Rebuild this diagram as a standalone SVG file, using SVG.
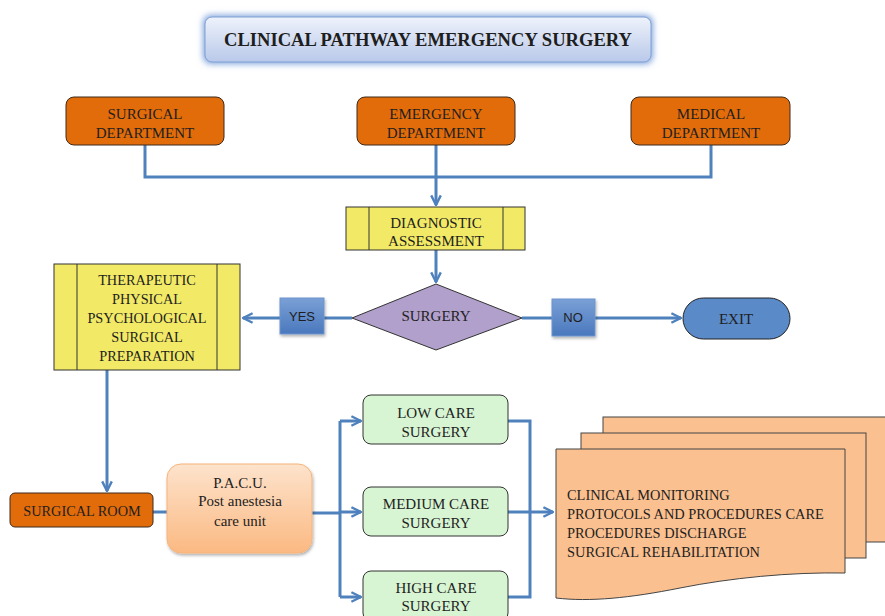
<svg xmlns="http://www.w3.org/2000/svg" width="885" height="616" viewBox="0 0 885 616">
<defs>
<linearGradient id="gTitle" x1="0" y1="0" x2="0" y2="1"><stop offset="0" stop-color="#eef2fb"/><stop offset="1" stop-color="#b9c9ea"/></linearGradient>
<linearGradient id="gBlue" x1="0" y1="0" x2="0" y2="1"><stop offset="0" stop-color="#7aa0d6"/><stop offset="1" stop-color="#4a78bd"/></linearGradient>
<linearGradient id="gPeach" x1="0" y1="0" x2="0" y2="1"><stop offset="0" stop-color="#fde3cc"/><stop offset="1" stop-color="#fbb982"/></linearGradient>
<filter id="glow" x="-10%" y="-40%" width="120%" height="180%"><feGaussianBlur stdDeviation="3"/></filter>
<filter id="sh" x="-10%" y="-10%" width="130%" height="140%"><feDropShadow dx="1" dy="2" stdDeviation="1.5" flood-color="#000" flood-opacity="0.3"/></filter>
<marker id="ah" viewBox="0 0 10 10" refX="9" refY="5" markerWidth="4" markerHeight="4" orient="auto"><path d="M1,1 L9,5 L1,9" fill="none" stroke="#4f81bd" stroke-width="2"/></marker>
</defs>
<style>
text{font-family:"Liberation Serif","DejaVu Serif",serif;font-size:15px;fill:#1e1e1e;text-anchor:middle}
.sm{font-size:14.3px}
.sans{font-family:"Liberation Sans","DejaVu Sans",sans-serif;font-size:13px}
.lft{text-anchor:start;font-size:14.4px}
.org{fill:#e36c0a;stroke:#3b2a1c;stroke-width:1}
.yel{fill:#f2ea66;stroke:#333;stroke-width:1}
.grn{fill:#d7f4d3;stroke:#333;stroke-width:1}
.doc{fill:#fac090;stroke:#444;stroke-width:1}
.c{fill:none;stroke:#4f81bd;stroke-width:3}
</style>
<rect width="885" height="616" fill="#fff"/>

<g id="title">
<rect x="203" y="15" width="450" height="49" rx="8" fill="#7fa3dc" filter="url(#glow)"/>
<rect x="205" y="17" width="446" height="45" rx="7" fill="url(#gTitle)" stroke="#7f9fd4" stroke-width="1"/>
<text x="428" y="46" style="font-weight:bold;font-size:19px" textLength="408" lengthAdjust="spacingAndGlyphs">CLINICAL PATHWAY EMERGENCY SURGERY</text>
</g>

<g id="connectors">
<path class="c" d="M145,145 V177 H711 V145"/>
<path class="c" d="M436,145 V205" marker-end="url(#ah)"/>
<path class="c" d="M436,250 V282" marker-end="url(#ah)"/>
<path class="c" d="M352,318 H324"/>
<path class="c" d="M280,318 H243" marker-end="url(#ah)"/>
<path class="c" d="M522,318 H552"/>
<path class="c" d="M595,318 H681" marker-end="url(#ah)"/>
<path class="c" d="M107,370 V491" marker-end="url(#ah)"/>
<path class="c" d="M153,512 H167"/>
<path class="c" d="M312,513 H340"/>
<path class="c" d="M340,421 V597"/>
<path class="c" d="M340,421 H361" marker-end="url(#ah)"/>
<path class="c" d="M340,512 H361" marker-end="url(#ah)"/>
<path class="c" d="M340,597 H361" marker-end="url(#ah)"/>
<path class="c" d="M508,421 H530 V597 H508"/>
<path class="c" d="M508,512 H553" marker-end="url(#ah)"/>
</g>

<g id="surgical-department">
<rect class="org" x="66" y="97" width="158" height="48" rx="8"/>
<text x="145" y="119">SURGICAL</text><text x="145" y="138">DEPARTMENT</text>
</g>
<g id="emergency-department">
<rect class="org" x="357" y="97" width="158" height="48" rx="8"/>
<text x="436" y="119">EMERGENCY</text><text x="436" y="138">DEPARTMENT</text>
</g>
<g id="medical-department">
<rect class="org" x="631" y="97" width="159" height="48" rx="8"/>
<text x="711" y="119">MEDICAL</text><text x="711" y="138">DEPARTMENT</text>
</g>

<g id="diagnostic-assessment">
<rect class="yel" x="346" y="207" width="179" height="43"/>
<path d="M369,207 V250 M503,207 V250" stroke="#333" stroke-width="1"/>
<text x="436" y="228">DIAGNOSTIC</text><text x="436" y="246">ASSESSMENT</text>
</g>

<g id="surgery-decision">
<polygon points="436,284 522,318 436,350 352,318" fill="#b1a0cb" stroke="#333" stroke-width="1"/>
<text x="436" y="321">SURGERY</text>
</g>

<g id="yes">
<rect x="280" y="298" width="44" height="36" fill="url(#gBlue)" stroke="#6d94cc" stroke-width="1" filter="url(#sh)"/>
<text class="sans" x="302" y="321">YES</text>
</g>
<g id="no">
<rect x="552" y="299" width="43" height="37" fill="url(#gBlue)" stroke="#6d94cc" stroke-width="1" filter="url(#sh)"/>
<text class="sans" x="573" y="322">NO</text>
</g>

<g id="exit">
<rect x="683" y="298" width="107" height="41" rx="20.5" fill="#5b8ac8" stroke="#222" stroke-width="1"/>
<text x="736" y="324">EXIT</text>
</g>

<g id="therapeutic-preparation">
<rect class="yel" x="54" y="264" width="186" height="106"/>
<path d="M77,264 V370 M217,264 V370" stroke="#333" stroke-width="1"/>
<text class="sm" x="147" y="285">THERAPEUTIC</text>
<text class="sm" x="147" y="304">PHYSICAL</text>
<text class="sm" x="147" y="323">PSYCHOLOGICAL</text>
<text class="sm" x="147" y="342">SURGICAL</text>
<text class="sm" x="147" y="361">PREPARATION</text>
</g>

<g id="surgical-room">
<rect class="org" x="10" y="493" width="143" height="34" rx="5"/>
<text class="sm" x="82" y="516">SURGICAL ROOM</text>
</g>

<g id="pacu">
<rect x="167" y="464" width="145" height="89" rx="14" fill="url(#gPeach)" stroke="#f6b47a" stroke-width="1" filter="url(#sh)"/>
<text x="240" y="488">P.A.C.U.</text>
<text x="240" y="506">Post anestesia</text>
<text x="240" y="526">care unit</text>
</g>

<g id="low-care">
<rect class="grn" x="363" y="395" width="145" height="49" rx="8"/>
<text x="436" y="418">LOW CARE</text><text x="436" y="437">SURGERY</text>
</g>
<g id="medium-care">
<rect class="grn" x="363" y="487" width="145" height="49" rx="8"/>
<text x="436" y="509">MEDIUM CARE</text><text x="436" y="528">SURGERY</text>
</g>
<g id="high-care">
<rect class="grn" x="363" y="571" width="145" height="50" rx="8"/>
<text x="436" y="593">HIGH CARE</text><text x="436" y="611">SURGERY</text>
</g>

<g id="documents">
<rect class="doc" x="603" y="417" width="290" height="125"/>
<rect class="doc" x="581" y="433" width="285" height="125"/>
<path class="doc" d="M556,449 H845 V573 C790,572 730,578 680,588 C630,598 590,602 556,598 Z"/>
<text class="lft" x="567" y="500">CLINICAL MONITORING</text>
<text class="lft" x="567" y="519">PROTOCOLS AND PROCEDURES CARE</text>
<text class="lft" x="567" y="538">PROCEDURES DISCHARGE</text>
<text class="lft" x="567" y="557">SURGICAL REHABILITATION</text>
</g>
</svg>
